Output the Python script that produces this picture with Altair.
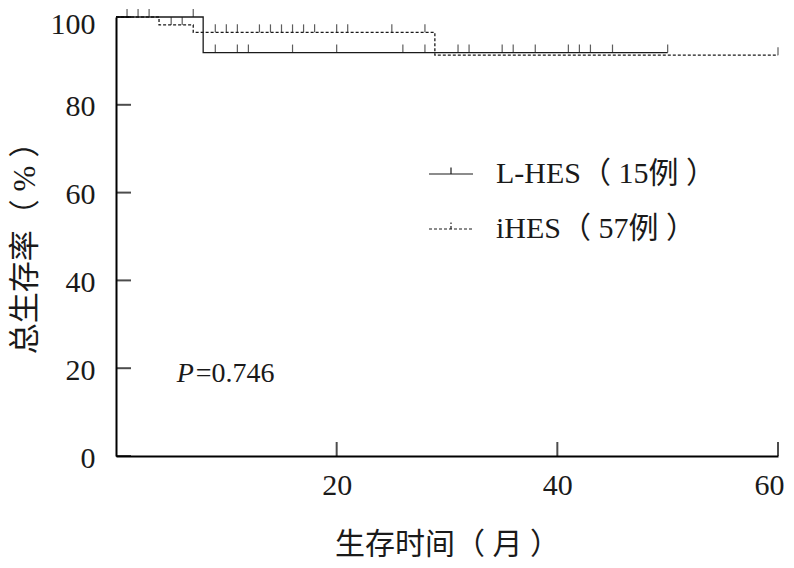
import altair as alt
import pandas as pd

# ---- data ----
series = ["L-HES（ 15例 ）", "iHES（ 57例 ）"]
# step curves (time in months, overall survival %)
lhes_t = [0, 7.9, 50]
lhes_s = [100, 91.9, 91.9]
ihes_t = [0, 3.9, 7.0, 28.9, 60]
ihes_s = [100, 98.2, 96.5, 91.3, 91.3]
# censor marks (times)
lhes_cens = [1, 2, 3, 7, 9, 11, 12, 16, 20, 26, 28, 31, 32, 35, 36, 38, 41, 42, 43, 45, 50]
ihes_cens = [5, 6, 9, 10, 11, 13, 14, 15, 16, 17, 18, 20, 21, 25, 28, 60]
x_ticks = [20, 40, 60]
y_ticks = [0, 20, 40, 60, 80, 100]
p_label = ("P", "=0.746")
p_pos = (5.5, 16.9)

FONT = "Liberation Serif, Noto Sans CJK SC"
INK = "#1a1a1a"


def step_value(ts, ss, t):
    v = ss[0]
    for ti, si in zip(ts, ss):
        if ti <= t:
            v = si
    return v


curves = pd.DataFrame(
    [{"t": t, "s": s, "g": series[0], "o": i} for i, (t, s) in enumerate(zip(lhes_t, lhes_s))]
    + [{"t": t, "s": s, "g": series[1], "o": i} for i, (t, s) in enumerate(zip(ihes_t, ihes_s))]
)
cens = pd.DataFrame(
    [{"t": t, "s": step_value(lhes_t, lhes_s, t), "g": series[0]} for t in lhes_cens]
    + [{"t": t, "s": step_value(ihes_t, ihes_s, t), "g": series[1]} for t in ihes_cens]
)
xt = pd.DataFrame({"v": x_ticks})
yt = pd.DataFrame({"v": y_ticks})

xscale = alt.Scale(domain=[0, 60], nice=False, zero=False)
yscale = alt.Scale(domain=[0, 100], nice=False)

x_axis = alt.Axis(
    values=x_ticks, ticks=False, tickSize=0, grid=False, domainWidth=2, domainColor="black",
    labelFont=FONT, labelFontSize=30, labelColor=INK, labelPadding=14,
    labelFlush=True, labelFlushOffset=6,
    title="生存时间（ 月 ）", titleFont=FONT, titleFontSize=30, titleFontWeight="normal",
    titleColor=INK, titleX=331, titleY=97, titleBaseline="alphabetic", titleAlign="center",
)
y_axis = alt.Axis(
    values=y_ticks, ticks=False, tickSize=0, grid=False, domainWidth=2, domainColor="black",
    labelFont=FONT, labelFontSize=30, labelColor=INK, labelPadding=21,
    labelOffset={"condition": {"test": "datum.value >= 100", "value": 7}, "value": 2},
    title="总生存率（ % ）", titleFont=FONT, titleFontSize=31, titleFontWeight="normal",
    titleColor=INK, titleX=-91, titleY=223, titleBaseline="middle", titleAlign="center",
    titleAngle=270,
)

dash_scale = alt.Scale(domain=series, range=[[1, 0], [3, 2]])

lines = alt.Chart(curves).mark_line(interpolate="step-after", color=INK, strokeWidth=1.3).encode(
    x=alt.X("t:Q", scale=xscale, axis=x_axis),
    y=alt.Y("s:Q", scale=yscale, axis=y_axis),
    order="o:Q",
    strokeDash=alt.StrokeDash(
        "g:N", scale=dash_scale,
        legend=alt.Legend(
            title=None, orient="none", legendX=312, legendY=134,
            symbolType="M-1,0H1M0,0V-0.3", symbolSize=1936, symbolStrokeWidth=1.2,
            symbolStrokeColor=INK, symbolFillColor="transparent",
            labelFont=FONT, labelFontSize=30, labelColor=INK, labelOffset=22,
            rowPadding=17, labelLimit=400,
        ),
    ),
)

cmarks = alt.Chart(cens).mark_tick(orient="vertical", size=8, thickness=1.2, color=INK, yOffset=-4).encode(
    x=alt.X("t:Q", scale=xscale),
    y=alt.Y("s:Q", scale=yscale),
)

xticks = alt.Chart(xt).mark_tick(orient="vertical", size=14, thickness=2, color="black", yOffset=-7).encode(
    x=alt.X("v:Q", scale=xscale), y=alt.datum(0, scale=yscale)
)
yticks = alt.Chart(yt).mark_tick(orient="horizontal", size=15, thickness=2, color="black", xOffset=7.5).encode(
    y=alt.Y("v:Q", scale=yscale), x=alt.datum(0, scale=xscale)
)

p1 = alt.Chart().mark_text(
    text=p_label[0], font=FONT, fontSize=28, fontStyle="italic", color=INK, align="left", baseline="alphabetic"
).encode(x=alt.datum(p_pos[0]), y=alt.datum(p_pos[1]))
p2 = alt.Chart().mark_text(
    text=p_label[1], font=FONT, fontSize=28, color=INK, align="left", baseline="alphabetic", dx=19
).encode(x=alt.datum(p_pos[0]), y=alt.datum(p_pos[1]))

chart = (
    alt.layer(lines, cmarks, xticks, yticks, p1, p2)
    .properties(
        width=662, height=439,
        padding={"left": 108, "top": 9, "right": 8, "bottom": 104},
        autosize=alt.AutoSizeParams(type="none"),
    )
    .configure_view(stroke=None)
)

chart.save("out.html", embed_options={"renderer": "svg", "actions": False})
